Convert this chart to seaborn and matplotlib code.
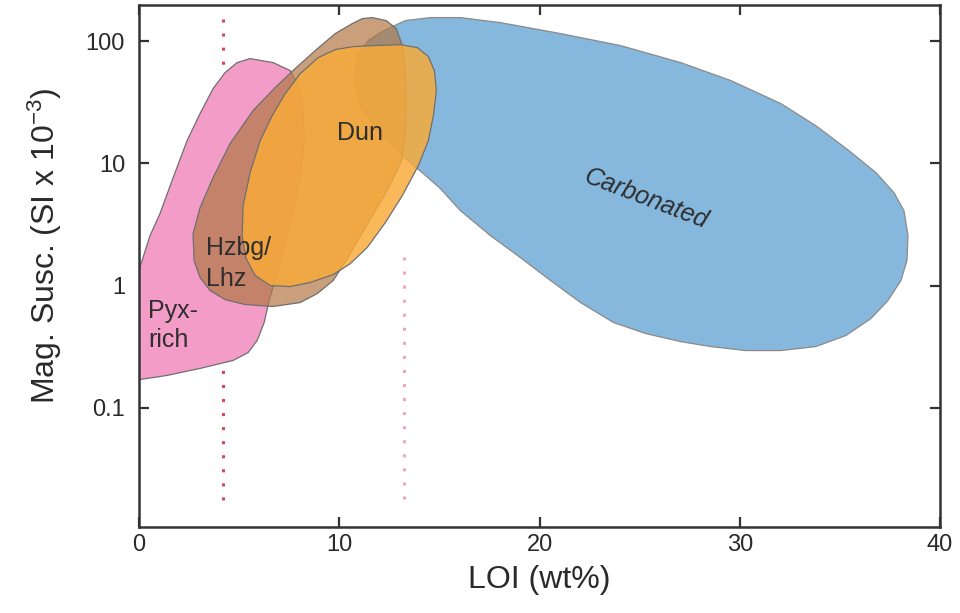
import numpy as np
import pandas as pd
import matplotlib
matplotlib.use("Agg")
import matplotlib.pyplot as plt
import seaborn as sns
from matplotlib.ticker import FixedLocator, NullLocator

# ---- data: field outlines (LOI wt%, mag. susc. SI x 1e-3) ----
pyx_loi = [5.55, 6.7, 7.55, 7.95, 8.2, 8.25, 8.05, 7.7, 7.25, 6.85, 6.5, 6.25, 5.9, 5.45,
           4.7, 3.05, 1.4, 0.0, -0.35, -0.35, 0.2, 0.55, 1.05, 1.65, 2.4, 3.05, 3.7, 4.3, 4.9]
pyx_ms = [71.8, 66.6, 57.3, 43.2, 27.0, 15.3, 7.93, 4.10, 2.12, 1.21, 0.754, 0.498, 0.355, 0.283,
          0.244, 0.21, 0.184, 0.170, 0.161, 0.91, 1.69, 2.56, 3.88, 7.22, 15.3, 25.5, 40.8, 55.2, 66.6]

hzb_loi = [11.65, 12.35, 12.85, 13.15, 13.3, 13.35, 13.3, 13.15, 12.65, 11.95, 11.15, 10.4, 9.7,
           8.9, 8.05, 6.7, 5.3, 4.3, 3.55, 3.05, 2.75, 2.7, 3.05, 3.7, 4.55, 5.7, 6.8, 7.8, 8.8,
           9.8, 10.65, 11.15]
hzb_ms = [155.4, 146.8, 126.3, 91.7, 57.3, 32.6, 16.85, 10.9, 7.22, 4.51, 2.71, 1.66, 1.10,
          0.860, 0.726, 0.674, 0.699, 0.768, 0.910, 1.163, 1.60, 2.66, 4.34, 7.64, 14.5, 27.0,
          41.6, 59.5, 83.5, 115.0, 138.8, 152.5]

dun_loi = [11.7, 13.05, 13.9, 14.45, 14.75, 14.85, 14.7, 14.45, 13.95, 13.15, 12.3, 11.4, 10.55,
           9.7, 8.55, 7.55, 6.55, 5.8, 5.35, 5.15, 5.2, 5.55, 6.05, 6.65, 7.3, 8.05, 8.95, 9.8, 10.7]
dun_ms = [91.7, 93.5, 88.3, 74.6, 57.3, 39.3, 24.5, 15.3, 9.58, 5.44, 3.27, 2.05, 1.51,
          1.23, 1.06, 0.981, 1.0, 1.21, 1.66, 2.56, 4.51, 8.39, 15.3, 24.5, 37.1, 54.1, 73.2, 85.1, 90.0]

carb_loi = [12.55, 13.3, 14.55, 16.05, 18.05, 21.05, 24.05, 27.05, 29.55, 32.05, 33.8, 35.45,
            36.8, 37.7, 38.2, 38.4, 38.35, 38.05, 37.4, 36.55, 35.3, 33.8, 32.05, 30.3, 28.55,
            27.05, 25.3, 23.7, 22.05, 20.55, 19.05, 17.55, 16.05, 15.05, 14.2, 13.55, 12.8,
            11.8, 11.05, 10.8, 10.9, 11.45, 12.05]
carb_ms = [128.8, 146.8, 155.4, 155.4, 141.4, 115.0, 91.7, 66.6, 47.5, 30.8, 20.3, 12.7,
           8.39, 5.76, 4.10, 2.56, 1.60, 1.10, 0.754, 0.537, 0.390, 0.317, 0.294, 0.294, 0.317,
           0.348, 0.405, 0.498, 0.726, 1.10, 1.69, 2.56, 4.10, 6.21, 8.24, 10.1, 13.2,
           19.2, 29.6, 47.5, 75.9, 100.7, 117.1]

# dotted reference lines
ref_loi = [4.18, 13.25]
ref_top = [150.0, 1.7]
ref_bottom = [0.0175, 0.0145]

x_ticks = [0, 10, 20, 30, 40]
y_ticks = [0.1, 1, 10, 100]
y_tick_labels = ["0.1", "1", "10", "100"]

labels = ["Dun", "Hzbg/\nLhz", "Pyx-\nrich", "Carbonated"]
label_loi = [11.05, 3.35, 0.45, 25.3]
label_ms = [17.8, 1.52, 0.47, 5.1]

# ---- style ----
sns.set_theme(style="ticks")
plt.rcParams["font.family"] = ["Liberation Sans", "DejaVu Sans"]
plt.rcParams["mathtext.fontset"] = "custom"
plt.rcParams["mathtext.rm"] = "Liberation Sans"
plt.rcParams["mathtext.it"] = "Liberation Sans:italic"

fig = plt.figure(figsize=(9.6, 6.13), dpi=100)
ax = fig.add_axes([139 / 960, 1 - 527 / 613, 801 / 960, 522 / 613])
ax.set_yscale("log")
ax.set_xlim(0, 40)
ax.set_ylim(0.0106, 197)

# reference lines
ax.plot([ref_loi[0]] * 2, [ref_top[0], ref_bottom[0]], color="#d9465a",
        lw=2.2, ls=(0, (1.0, 3.6)), zorder=1)
ax.plot([ref_loi[1]] * 2, [ref_top[1], ref_bottom[1]], color="#f0a8b8",
        lw=2.2, ls=(0, (1.0, 3.6)), zorder=1)

edge = "#6f6f6f"
ax.fill(pyx_loi, pyx_ms, facecolor="#f39cc8", edgecolor=edge, lw=0.9, zorder=2)
ax.fill(carb_loi, carb_ms, facecolor="#86b7dc", edgecolor="#8a8a8a", lw=0.9, zorder=3)
ax.fill(hzb_loi, hzb_ms, facecolor=(178 / 255, 119 / 255, 68 / 255, 0.70),
        edgecolor=edge, lw=0.9, zorder=4)
ax.fill(dun_loi, dun_ms, facecolor=(248 / 255, 171 / 255, 57 / 255, 0.83),
        edgecolor=edge, lw=0.9, zorder=5)

tc = "#2e2e2e"
ax.text(label_loi[0], label_ms[0], labels[0], ha="center", va="center", fontsize=18, color=tc, zorder=6)
ax.text(label_loi[1], label_ms[1], labels[1], ha="left", va="center", fontsize=18, color=tc,
        linespacing=1.4, zorder=6)
ax.text(label_loi[2], label_ms[2], labels[2], ha="left", va="center", fontsize=18, color=tc,
        linespacing=1.3, zorder=6)
ax.text(label_loi[3], label_ms[3], labels[3], ha="center", va="center", fontsize=18, color=tc,
        rotation=-21, style="italic", zorder=6)

# axes styling
ax.xaxis.set_major_locator(FixedLocator(x_ticks))
ax.set_xticklabels([str(v) for v in x_ticks])
ax.yaxis.set_major_locator(FixedLocator(y_ticks))
ax.yaxis.set_minor_locator(NullLocator())
ax.set_yticklabels(y_tick_labels)
for s in ax.spines.values():
    s.set_visible(True)
    s.set_linewidth(1.8)
    s.set_color("#333333")
ax.tick_params(axis="both", which="major", direction="in", length=7, width=1.6,
               colors="#333333", labelsize=17, labelcolor="#2a2a2a",
               top=True, right=True)
ax.tick_params(axis="x", pad=5)
ax.tick_params(axis="y", pad=10)
ax.grid(False)

ax.set_xlabel("LOI (wt%)", fontsize=23, color="#2a2a2a")
ax.set_ylabel(r"Mag. Susc. (SI x 10$^{\mathregular{-3}}$)", fontsize=23, color="#2a2a2a")
ax.xaxis.set_label_coords(0.5, -0.072)
ax.yaxis.set_label_coords(-0.094, 0.538)

fig.savefig("out.png", dpi=100)
